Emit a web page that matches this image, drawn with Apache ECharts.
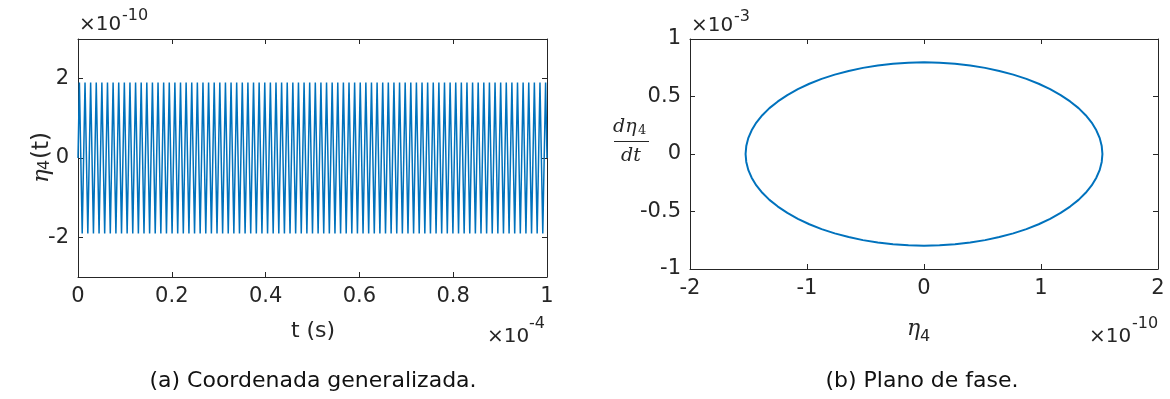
<!DOCTYPE html>
<html>
<head>
<meta charset="utf-8">
<script src="https://cdn.jsdelivr.net/npm/echarts@6/dist/echarts.min.js"></script>
<style>
  html, body { margin: 0; padding: 0; background: #fff; }
  #chart { width: 1170px; height: 399px; }
</style>
</head>
<body>
<div id="chart"></div>
<script>
// (a) eta_4(t): start value, successive peaks/troughs (x1e-10), end value
const eta4Start = 0
const eta4Extrema = [
  1.9, -1.9, 1.9, -1.9, 1.9, -1.9, 1.9, -1.9, 1.9, -1.9,
  1.9, -1.9, 1.9, -1.9, 1.9, -1.9, 1.9, -1.9, 1.9, -1.9,
  1.9, -1.9, 1.9, -1.9, 1.9, -1.9, 1.9, -1.9, 1.9, -1.9,
  1.9, -1.9, 1.9, -1.9, 1.9, -1.9, 1.9, -1.9, 1.9, -1.9,
  1.9, -1.9, 1.9, -1.9, 1.9, -1.9, 1.9, -1.9, 1.9, -1.9,
  1.9, -1.9, 1.9, -1.9, 1.9, -1.9, 1.9, -1.9, 1.9, -1.9,
  1.9, -1.9, 1.9, -1.9, 1.9, -1.9, 1.9, -1.9, 1.9, -1.9,
  1.9, -1.9, 1.9, -1.9, 1.9, -1.9, 1.9, -1.9, 1.9, -1.9,
  1.9, -1.9, 1.9, -1.9, 1.9, -1.9, 1.9, -1.9, 1.9, -1.9,
  1.9, -1.9, 1.9, -1.9, 1.9, -1.9, 1.9, -1.9, 1.9, -1.9,
  1.9, -1.9, 1.9, -1.9, 1.9, -1.9, 1.9, -1.9, 1.9, -1.9,
  1.9, -1.9, 1.9, -1.9, 1.9, -1.9, 1.9, -1.9, 1.9, -1.9,
  1.9, -1.9, 1.9, -1.9, 1.9, -1.9, 1.9, -1.9, 1.9, -1.9,
  1.9, -1.9, 1.9, -1.9, 1.9, -1.9, 1.9, -1.9, 1.9, -1.9,
  1.9, -1.9, 1.9, -1.9, 1.9, -1.9, 1.9, -1.9, 1.9, -1.9,
  1.9, -1.9, 1.9, -1.9, 1.9, -1.9, 1.9, -1.9, 1.9, -1.9,
  1.9, -1.9, 1.9, -1.9, 1.9, -1.9, 1.9
]
const eta4End = 0
// oscillation period (units of 1e-4 s), first peak a quarter period in
const period = 0.011976
const tEnd = 1

// (b) phase plane points: eta_4 (x1e-10), d eta_4/dt (x1e-3)
const phaseEta = [
  0, 0.133, 0.265, 0.395, 0.522, 0.644, 0.763, 0.875, 0.980, 1.078, 1.168, 1.249, 1.321, 1.382, 1.433, 1.473, 1.502, 1.519, 1.525,
  1.519, 1.502, 1.473, 1.433, 1.382, 1.321, 1.249, 1.168, 1.078, 0.980, 0.875, 0.763, 0.644, 0.522, 0.395, 0.265, 0.133, 0,
  -0.133, -0.265, -0.395, -0.522, -0.644, -0.763, -0.875, -0.980, -1.078, -1.168, -1.249, -1.321, -1.382, -1.433, -1.473, -1.502, -1.519, -1.525,
  -1.519, -1.502, -1.473, -1.433, -1.382, -1.321, -1.249, -1.168, -1.078, -0.980, -0.875, -0.763, -0.644, -0.522, -0.395, -0.265, -0.133, 0
]
const phaseDeta = [
  0.797, 0.794, 0.785, 0.770, 0.749, 0.722, 0.690, 0.653, 0.611, 0.564, 0.512, 0.457, 0.399, 0.337, 0.273, 0.206, 0.138, 0.069, 0,
  -0.069, -0.138, -0.206, -0.273, -0.337, -0.399, -0.457, -0.512, -0.564, -0.611, -0.653, -0.690, -0.722, -0.749, -0.770, -0.785, -0.794, -0.797,
  -0.794, -0.785, -0.770, -0.749, -0.722, -0.690, -0.653, -0.611, -0.564, -0.512, -0.457, -0.399, -0.337, -0.273, -0.206, -0.138, -0.069, 0,
  0.069, 0.138, 0.206, 0.273, 0.337, 0.399, 0.457, 0.512, 0.564, 0.611, 0.653, 0.690, 0.722, 0.749, 0.770, 0.785, 0.794, 0.797
]

const leftTicksY = [-2, 0, 2]

const timeSeries = [[0, eta4Start]]
eta4Extrema.forEach((v, i) => timeSeries.push([period * (0.25 + i / 2), v]))
timeSeries.push([tEnd, eta4End])

const phaseSeries = phaseEta.map((x, i) => [x, phaseDeta[i]])

const INK = '#262626'
const BLUE = '#0072BD'
const SANS = '"DejaVu Sans", sans-serif'
const SERIF = '"DejaVu Serif", serif'

function axisBase(gridIndex, position, showLabel) {
  return {
    gridIndex: gridIndex,
    type: 'value',
    position: position,
    axisLine: { show: true, onZero: false, lineStyle: { color: INK, width: 1 } },
    axisTick: { show: true, inside: true, length: 5, lineStyle: { color: INK } },
    axisLabel: { show: showLabel, color: INK, fontFamily: SANS, fontSize: 21, margin: 9 },
    splitLine: { show: false }
  }
}

function txt(x, y, text, size, extra) {
  return {
    type: 'text', x: x, y: y, silent: true,
    style: Object.assign({
      text: text, fill: INK, fontFamily: SANS, fontSize: size,
      align: 'left', verticalAlign: 'middle'
    }, extra || {})
  }
}

const chart = echarts.init(document.getElementById('chart'), null, { renderer: 'canvas' })

const xAxes = [
  Object.assign(axisBase(0, 'bottom', true), { min: 0, max: 1, interval: 0.2 }),
  Object.assign(axisBase(0, 'top', false), { min: 0, max: 1, interval: 0.2 }),
  Object.assign(axisBase(1, 'bottom', true), { min: -2, max: 2, interval: 1 }),
  Object.assign(axisBase(1, 'top', false), { min: -2, max: 2, interval: 1 })
]
const yLeft = axisBase(0, 'left', true)
yLeft.min = -3; yLeft.max = 3
yLeft.axisTick.customValues = leftTicksY
yLeft.axisLabel.customValues = leftTicksY
const yLeftR = axisBase(0, 'right', false)
yLeftR.min = -3; yLeftR.max = 3
yLeftR.axisTick.customValues = leftTicksY
yLeftR.axisLabel.customValues = leftTicksY
const yAxes = [
  yLeft,
  yLeftR,
  Object.assign(axisBase(1, 'left', true), { min: -1, max: 1, interval: 0.5 }),
  Object.assign(axisBase(1, 'right', false), { min: -1, max: 1, interval: 0.5 })
]

chart.setOption({
  animation: false,
  backgroundColor: '#fff',
  grid: [
    { left: 78, top: 39, width: 469, height: 238 },
    { left: 690, top: 39, width: 468, height: 230 }
  ],
  xAxis: xAxes,
  yAxis: yAxes,
  series: [
    {
      type: 'line', xAxisIndex: 0, yAxisIndex: 0,
      data: timeSeries, showSymbol: false, smooth: false,
      lineStyle: { color: BLUE, width: 1.5 }
    },
    {
      type: 'line', xAxisIndex: 2, yAxisIndex: 2,
      data: phaseSeries, showSymbol: false, smooth: false,
      lineStyle: { color: BLUE, width: 2 }
    }
  ],
  graphic: [
    // exponents
    txt(79, 25, '×10', 20),
    txt(122, 16, '-10', 16),
    txt(691, 26, '×10', 20),
    txt(734, 17, '-3', 16),
    txt(487, 337, '×10', 20),
    txt(529, 324, '-4', 16),
    txt(1089, 337, '×10', 20),
    txt(1132, 324, '-10', 16),
    // axis titles
    txt(313, 331, 't (s)', 22, { align: 'center' }),
    {
      type: 'group', x: 31, y: 183, rotation: Math.PI / 2,
      children: [
        txt(0, 0, 'η', 23, { fontFamily: SERIF, fontStyle: 'italic', verticalAlign: 'alphabetic' }),
        txt(13, 6, '4', 16, { verticalAlign: 'alphabetic' }),
        txt(24, 0, '(t)', 23, { verticalAlign: 'alphabetic' })
      ]
    },
    txt(907, 329, 'η', 22, { fontFamily: SERIF, fontStyle: 'italic' }),
    txt(920, 337, '4', 16),
    // d eta_4 / dt
    txt(613, 127, 'dη', 19, { fontFamily: SERIF, fontStyle: 'italic' }),
    txt(638, 131, '4', 13, { fontFamily: SERIF }),
    { type: 'line', silent: true, shape: { x1: 614, y1: 141.5, x2: 649, y2: 141.5 }, style: { stroke: INK, lineWidth: 1 } },
    txt(631, 156, 'dt', 19, { fontFamily: SERIF, fontStyle: 'italic', align: 'center' }),
    // captions
    txt(313, 381, '(a) Coordenada generalizada.', 22, { align: 'center', fill: '#111' }),
    txt(922, 381, '(b) Plano de fase.', 22, { align: 'center', fill: '#111' })
  ]
})
</script>
</body>
</html>
